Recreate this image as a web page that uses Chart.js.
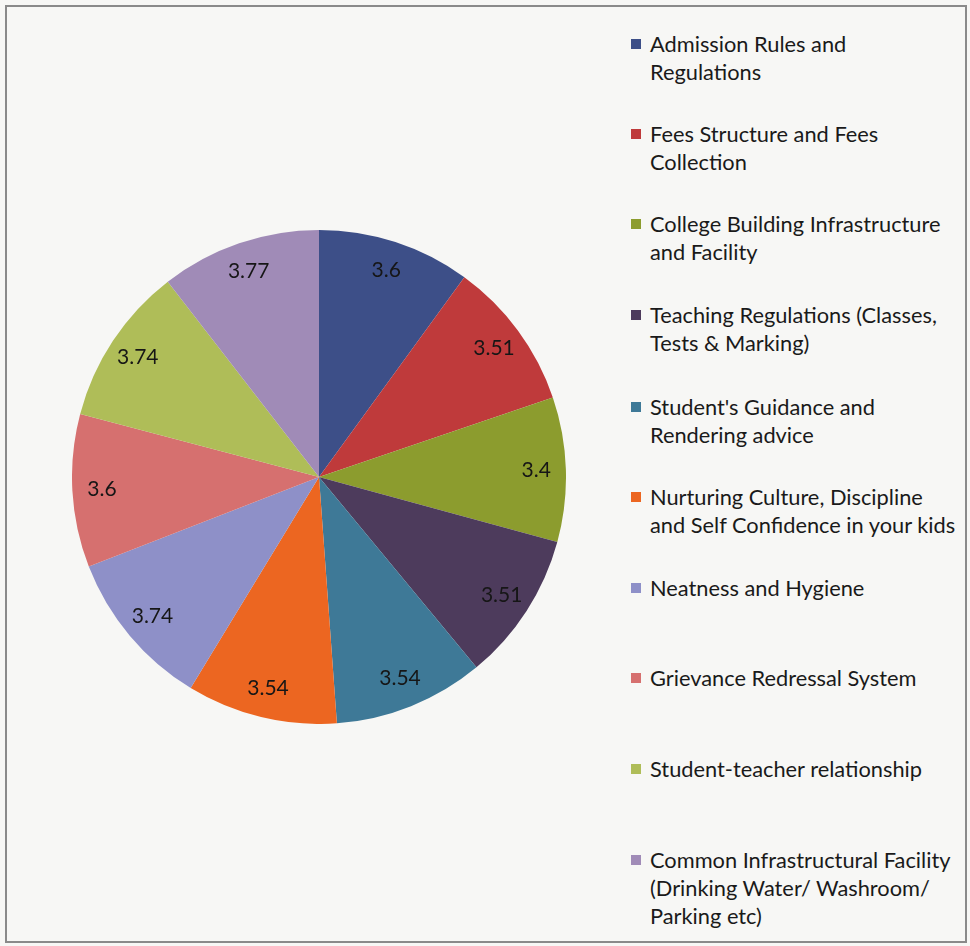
<!DOCTYPE html>
<html>
<head>
<meta charset="utf-8">
<script src="https://cdn.jsdelivr.net/npm/chart.js@4/dist/chart.umd.min.js"></script>
<style>
  html, body { margin: 0; padding: 0; background: #f7f7f5; }
  #page { position: relative; width: 970px; height: 946px; overflow: hidden; background: #f7f7f5; }
  #frame { position: absolute; left: 5px; top: 5px; width: 958px; height: 934px; border: 2px solid #8a8a8a; }
  #chartBox { position: absolute; left: 72px; top: 230px; width: 494px; height: 494px; }
  #legend { position: absolute; left: 0; top: 0; }
  .item { position: absolute; left: 650px; font-family: Lato, "Open Sans", sans-serif; font-size: 21.8px; line-height: 28px; color: #1a1a1a; white-space: nowrap; }
  .sw { position: absolute; left: -19px; top: 9px; width: 10px; height: 10px; }
</style>
</head>
<body>
<div id="page">
  <div id="frame"></div>
  <div id="chartBox"><canvas id="c"></canvas></div>
  <div id="legend"></div>
</div>
<script>
const categories = [
  ["Admission Rules and", "Regulations"],
  ["Fees Structure and Fees", "Collection"],
  ["College Building Infrastructure", "and Facility"],
  ["Teaching Regulations (Classes,", "Tests & Marking)"],
  ["Student's Guidance and", "Rendering advice"],
  ["Nurturing Culture, Discipline", "and Self Confidence in your kids"],
  ["Neatness and Hygiene"],
  ["Grievance Redressal System"],
  ["Student-teacher relationship"],
  ["Common Infrastructural Facility", "(Drinking Water/ Washroom/", "Parking etc)"]
];
const values = [3.6, 3.51, 3.4, 3.51, 3.54, 3.54, 3.74, 3.6, 3.74, 3.77];
const colors = ["#3d4f88", "#bf3a3b", "#8c9c2e", "#4d3b5c", "#3e7997", "#ec6621",
                "#8e90c8", "#d6706f", "#afbd58", "#a08bb7"];
const legendTops = [30, 120, 210, 301, 393, 483, 574, 664, 755, 846];

const labelPlugin = {
  id: 'sliceLabels',
  afterDatasetsDraw(chart) {
    const ctx = chart.ctx;
    const meta = chart.getDatasetMeta(0);
    ctx.save();
    ctx.font = '21px Lato, "Open Sans", sans-serif';
    ctx.fillStyle = '#161616';
    ctx.textAlign = 'center';
    ctx.textBaseline = 'middle';
    meta.data.forEach((arc, i) => {
      const p = arc.getProps(['x', 'y', 'startAngle', 'endAngle', 'outerRadius'], true);
      const mid = (p.startAngle + p.endAngle) / 2;
      const r = p.outerRadius * 0.88;
      ctx.fillText(String(values[i]), p.x + Math.cos(mid) * r, p.y + Math.sin(mid) * r);
    });
    ctx.restore();
  }
};

new Chart(document.getElementById('c'), {
  type: 'pie',
  data: {
    labels: categories.map(c => c.join(' ')),
    datasets: [{ data: values, backgroundColor: colors, borderWidth: 0 }]
  },
  options: {
    responsive: true,
    maintainAspectRatio: false,
    animation: false,
    layout: { padding: 0 },
    plugins: { legend: { display: false }, tooltip: { enabled: false } }
  },
  plugins: [labelPlugin]
});

const legend = document.getElementById('legend');
categories.forEach((lines, i) => {
  const d = document.createElement('div');
  d.className = 'item';
  d.style.top = legendTops[i] + 'px';
  const sw = document.createElement('div');
  sw.className = 'sw';
  sw.style.background = colors[i];
  d.appendChild(sw);
  lines.forEach((t, j) => {
    if (j > 0) d.appendChild(document.createElement('br'));
    d.appendChild(document.createTextNode(t));
  });
  legend.appendChild(d);
});
</script>
</body>
</html>
